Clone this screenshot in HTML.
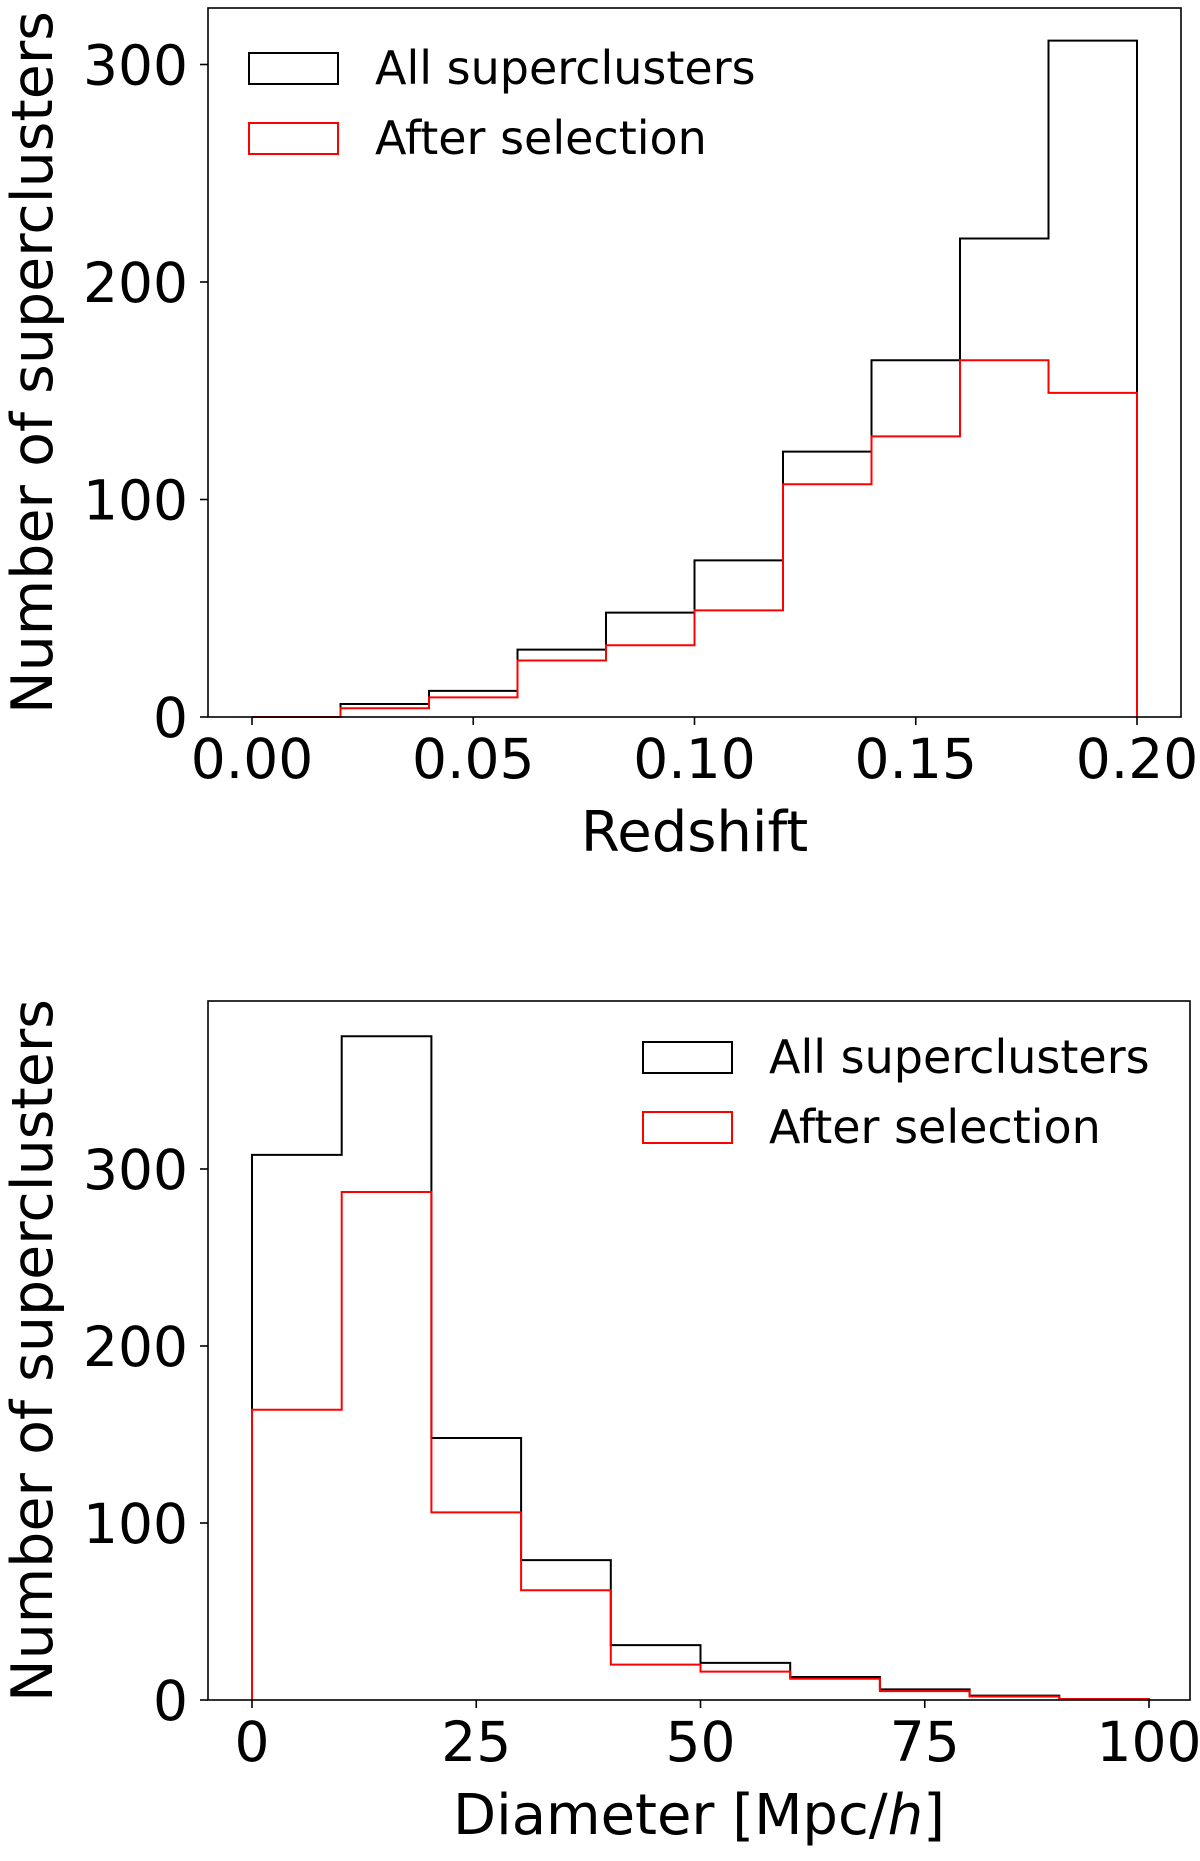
<!DOCTYPE html>
<html><head><meta charset="utf-8"><style>
body{margin:0;background:#fff}
svg text{font-family:"DejaVu Sans","Liberation Sans",sans-serif;fill:#000}
</style></head><body>
<svg width="1200" height="1856" viewBox="0 0 1200 1856" xmlns="http://www.w3.org/2000/svg">
<g id="top"></g>
<g id="bot"></g>
</svg>
<script>
const zEdges=[0,0.02,0.04,0.06,0.08,0.10,0.12,0.14,0.16,0.18,0.20];
const zAll=[0,6,12,31,48,72,122,164,220,311];
const zSel=[0,4,9,26,33,49,107,129,164,149];
const zTicks=[0,0.05,0.10,0.15,0.20];
const zTickLabels=["0.00","0.05","0.10","0.15","0.20"];
const dEdges=[0,10,20,30,40,50,60,70,80,90,100];
const dAll=[308,375,148,79,31,21,13,6,2.5,0.5];
const dSel=[164,287,106,62,20,16,12,5,2,0.5];
const dTicks=[0,25,50,75,100];
const dTickLabels=["0","25","50","75","100"];
const yTicks=[0,100,200,300];
const yTickLabels=["0","100","200","300"];
const NS="http://www.w3.org/2000/svg";
function mk(p,t,a){const e=document.createElementNS(NS,t);for(const k in a)e.setAttribute(k,a[k]);p.appendChild(e);return e;}
function chart(g,cfg){
  const {L,R,T,B,x0,x1,px0,px1,yPer100,edges,all,sel,ticks,tlab,xlabel,leg}=cfg;
  const sx=v=>px0+(v-x0)/(x1-x0)*(px1-px0);
  const sy=v=>B-v/100*yPer100;
  function step(vals,col,name){
    let d="M"+sx(edges[0])+","+sy(0);
    vals.forEach((v,i)=>{d+=" L"+sx(edges[i])+","+sy(v)+" L"+sx(edges[i+1])+","+sy(v);});
    d+=" L"+sx(edges[edges.length-1])+","+sy(0);
    const p=mk(g,"path",{d:d,fill:"none",stroke:col,"stroke-width":2});
    
    
  }
  step(all,"#000","series-all-superclusters");
  step(sel,"#f00","series-after-selection");
  const fr=mk(g,"rect",{x:L,y:T,width:R-L,height:B-T,fill:"none",stroke:"#000","stroke-width":1.6});
  
  
  ticks.forEach((t,i)=>{
    const x=sx(t);
    mk(g,"line",{x1:x,x2:x,y1:B,y2:B+8,stroke:"#000","stroke-width":1.6});
    const tx=mk(g,"text",{x:x,y:B+61,"font-size":55,"text-anchor":"middle"});
    tx.textContent=tlab[i];
    
    
  });
  yTicks.forEach((t,i)=>{
    const y=sy(t);
    mk(g,"line",{x1:L-8,x2:L,y1:y,y2:y,stroke:"#000","stroke-width":1.6});
    const tx=mk(g,"text",{x:L-20,y:y+20,"font-size":55,"text-anchor":"end"});
    tx.textContent=yTickLabels[i];
    
    
  });
  const xl=mk(g,"text",{x:(L+R)/2,y:B+134,"font-size":56,"text-anchor":"middle"});
  xl.innerHTML=xlabel;
  
  
  const yc=(T+B)/2;
  const yl=mk(g,"text",{x:52,y:yc,"font-size":57,"text-anchor":"middle",transform:"rotate(-90 52 "+yc+")"});
  yl.textContent="Number of superclusters";
  
  
  [["All superclusters","#000",leg.y],["After selection","#f00",leg.y+70]].forEach(([t,c,y])=>{
    const r=mk(g,"rect",{x:leg.x,y:y,width:89,height:31,fill:"none",stroke:c,"stroke-width":2});
    
    
    const tx=mk(g,"text",{x:leg.x+126,y:y+31,"font-size":46});
    tx.textContent=t;
    
    
  });
}
chart(document.getElementById("top"),{L:208,R:1181,T:8,B:717,x0:0,x1:0.2,px0:252,px1:1137,yPer100:217.5,
  edges:zEdges,all:zAll,sel:zSel,ticks:zTicks,tlab:zTickLabels,xlabel:"Redshift",leg:{x:249,y:53}});
chart(document.getElementById("bot"),{L:208,R:1190,T:1001,B:1700,x0:0,x1:100,px0:252,px1:1149,yPer100:177,
  edges:dEdges,all:dAll,sel:dSel,ticks:dTicks,tlab:dTickLabels,xlabel:'Diameter [Mpc/<tspan font-style="italic">h</tspan>]',leg:{x:643,y:1042}});
</script>
</body></html>
